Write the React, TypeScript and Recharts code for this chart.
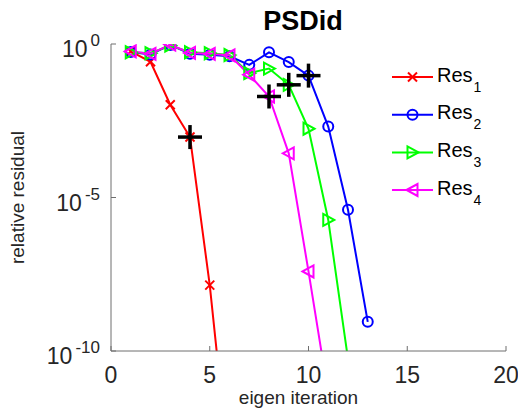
import React from 'react';
import { ComposedChart, Line, XAxis, YAxis, Legend } from 'recharts';

const iterations = [1, 2, 3, 4, 5, 6, 7, 8, 9, 10, 11, 12, 13];
const res1 = [0.575, 0.263, 1.05e-2, 9.3e-4, 1.4e-8, 1e-14];
const res2 = [0.55, 0.457, 0.933, 0.479, 0.447, 0.398, 0.209, 0.537, 0.257, 0.0933, 2.04e-3, 3.98e-6, 8.9e-10];
const res3 = [0.537, 0.501, 0.891, 0.537, 0.501, 0.437, 0.112, 0.158, 0.0468, 1.74e-3, 1.86e-6, 5.5e-11];
const res4 = [0.575, 0.479, 0.955, 0.513, 0.479, 0.427, 0.1, 0.0195, 2.75e-4, 3.9e-8, 4e-12];
const convergedIter = [4, 8, 9, 10];
const convergedSeries = ['r1', 'r4', 'r3', 'r2'];
const xTicks = [0, 5, 10, 15, 20];
const yTicks = [1, 1e-5, 1e-10];
const seriesKeys = ['r1', 'r2', 'r3', 'r4'];
const seriesColors = ['#ff0000', '#0000ff', '#00ff00', '#ff00ff'];
const seriesMarkers = ['x', 'o', '>', '<'];
const seriesBase = 'Res';
const seriesSubs = ['1', '2', '3', '4'];
const titleText = 'PSDid';
const xLabel = 'eigen iteration';
const yLabel = 'relative residual';

const FONT = '"Liberation Sans", Arial, Helvetica, sans-serif';
const TEXT = '#262626';
const AXIS = '#6e6e6e';

const baseRows = iterations.map((x, i) => ({
  x,
  r1: res1[i],
  r2: res2[i],
  r3: res3[i],
  r4: res4[i],
}));

const data = baseRows.map((row: any) => {
  const k = convergedIter.indexOf(row.x);
  return { ...row, conv: k >= 0 ? row[convergedSeries[k]] : undefined };
});

function Marker({ kind, cx, cy, color }: { kind: string; cx: number; cy: number; color: string }) {
  const sw = 2;
  if (kind === 'x') {
    const s = 4.5;
    return (
      <g stroke={color} strokeWidth={sw} fill="none">
        <line x1={cx - s} y1={cy - s} x2={cx + s} y2={cy + s} />
        <line x1={cx - s} y1={cy + s} x2={cx + s} y2={cy - s} />
      </g>
    );
  }
  if (kind === 'o') {
    return <circle cx={cx} cy={cy} r={5} stroke={color} strokeWidth={sw} fill="none" />;
  }
  if (kind === '>') {
    const pts = `${cx + 6},${cy} ${cx - 5},${cy - 6} ${cx - 5},${cy + 6}`;
    return <polygon points={pts} stroke={color} strokeWidth={sw} fill="none" />;
  }
  const pts = `${cx - 6},${cy} ${cx + 5},${cy - 6} ${cx + 5},${cy + 6}`;
  return <polygon points={pts} stroke={color} strokeWidth={sw} fill="none" />;
}

const valid = (cx: any, cy: any) => cx != null && cy != null && !isNaN(cx) && !isNaN(cy);

const makeDot = (kind: string, color: string) => (props: any) => {
  const { cx, cy, index } = props;
  if (!valid(cx, cy)) return <g key={`d-${index}`} />;
  return (
    <g key={`d-${index}`}>
      <Marker kind={kind} cx={cx} cy={cy} color={color} />
    </g>
  );
};

const plusDot = (props: any) => {
  const { cx, cy, index, value } = props;
  if (!valid(cx, cy) || value == null) return <g key={`p-${index}`} />;
  const s = 12;
  return (
    <g key={`p-${index}`} stroke="#000" strokeWidth={3.5}>
      <line x1={cx - s} y1={cy} x2={cx + s} y2={cy} />
      <line x1={cx} y1={cy - s} x2={cx} y2={cy + s} />
    </g>
  );
};

const XTick = (props: any) => {
  const { x, payload } = props;
  return (
    <text x={x} y={383} textAnchor="middle" fill={TEXT} fontSize={23} fontFamily={FONT}>
      {payload.value}
    </text>
  );
};

const YTick = (props: any) => {
  const { x, y, payload } = props;
  const exp = Math.round(Math.log10(payload.value));
  return (
    <text x={x} y={y + 13} textAnchor="end" fill={TEXT} fontFamily={FONT}>
      <tspan fontSize={23}>10</tspan>
      <tspan fontSize={17} dx={3} dy={-11}>{exp === 0 ? '0' : `-${Math.abs(exp)}`}</tspan>
    </text>
  );
};

const LegendContent = () => {
  const rowY = [19, 56.7, 94.4, 132];
  return (
    <svg width={130} height={160} style={{ display: 'block', overflow: 'visible' }}>
      {seriesKeys.map((k, i) => (
        <g key={k}>
          <line x1={4} y1={rowY[i]} x2={45} y2={rowY[i]} stroke={seriesColors[i]} strokeWidth={2} />
          <Marker kind={seriesMarkers[i]} cx={24.5} cy={rowY[i]} color={seriesColors[i]} />
          <text x={49} y={rowY[i] + 4.5} fill="#000" fontFamily={FONT} fontSize={20}>
            {seriesBase}
            <tspan fontSize={14} dx={1} dy={10}>{seriesSubs[i]}</tspan>
          </text>
        </g>
      ))}
    </svg>
  );
};

export default function App() {
  return (
    <div style={{ position: 'absolute', left: 0, top: 0, width: 518, height: 411, background: '#fff' }}>
      <div
        style={{
          position: 'absolute',
          left: 203,
          width: 200,
          top: 3,
          textAlign: 'center',
          fontFamily: FONT,
          fontWeight: 'bold',
          fontSize: 27,
          color: '#000',
          lineHeight: '36px',
          zIndex: 2,
        }}
      >
        {titleText}
      </div>
      <ComposedChart width={518} height={411} data={data} margin={{ top: 44, right: 12, bottom: 0, left: 0 }}>
        <XAxis
          dataKey="x"
          type="number"
          domain={[0, 20]}
          ticks={xTicks}
          interval={0}
          height={60}
          tickSize={-5}
          tick={<XTick />}
          stroke={AXIS}
          allowDataOverflow
          label={{
            content: (p: any) => {
              const vb = p.viewBox;
              return (
                <text x={vb.x + vb.width / 2 - 10} y={vb.y + 53} textAnchor="middle" fill={TEXT} fontSize={19} fontFamily={FONT}>
                  {xLabel}
                </text>
              );
            },
          }}
        />
        <XAxis
          xAxisId="top"
          orientation="top"
          type="number"
          domain={[0, 20]}
          ticks={xTicks}
          interval={0}
          height={0}
          tickSize={-5}
          tick={false}
          stroke={AXIS}
        />
        <YAxis
          scale="log"
          type="number"
          domain={[1e-10, 1]}
          ticks={yTicks}
          interval={0}
          allowDataOverflow
          width={111}
          tickSize={-5}
          tickMargin={16}
          tick={<YTick />}
          stroke={AXIS}
          label={{
            content: (p: any) => {
              const vb = p.viewBox;
              const cx = vb.x + 24;
              const cy = vb.y + vb.height / 2;
              return (
                <text x={cx} y={cy} transform={`rotate(-90 ${cx} ${cy})`} textAnchor="middle" fill={TEXT} fontSize={19} fontFamily={FONT}>
                  {yLabel}
                </text>
              );
            },
          }}
        />
        <YAxis
          yAxisId="right"
          orientation="right"
          scale="log"
          type="number"
          domain={[1e-10, 1]}
          ticks={yTicks}
          interval={0}
          allowDataOverflow
          width={0}
          tickSize={-5}
          tick={false}
          stroke={AXIS}
        />
        <Legend
          layout="vertical"
          align="center"
          verticalAlign="middle"
          content={() => <LegendContent />}
          wrapperStyle={{ position: 'absolute', left: 388, top: 58, width: 130, height: 160 }}
        />
        {seriesKeys.map((k, i) => (
          <Line
            key={k}
            type="linear"
            dataKey={k}
            stroke={seriesColors[i]}
            strokeWidth={2}
            dot={makeDot(seriesMarkers[i], seriesColors[i])}
            activeDot={false}
            isAnimationActive={false}
            legendType="none"
          />
        ))}
        <Line
          type="linear"
          dataKey="conv"
          stroke="none"
          dot={plusDot}
          activeDot={false}
          isAnimationActive={false}
          legendType="none"
        />
      </ComposedChart>
    </div>
  );
}
